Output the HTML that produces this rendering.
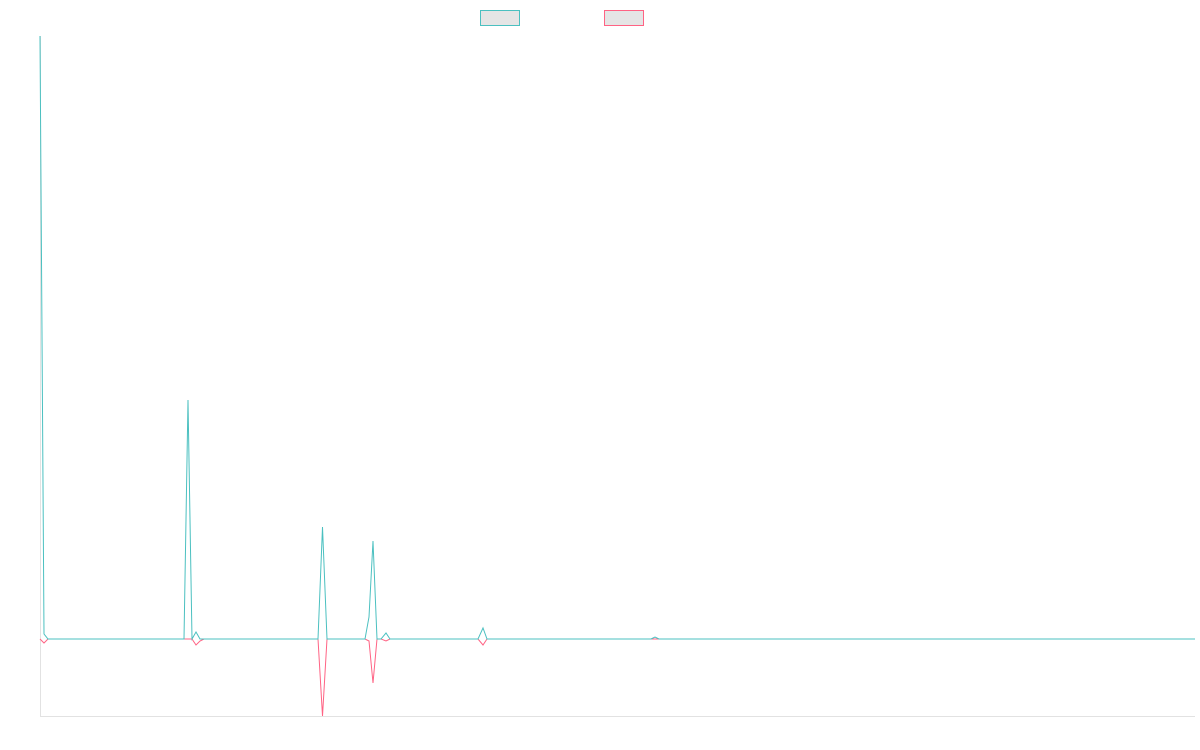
<!DOCTYPE html>
<html><head><meta charset="utf-8"><style>html,body{margin:0;padding:0;background:#fff;width:1200px;height:750px;overflow:hidden}</style></head>
<body>
<svg width="1200" height="750" xmlns="http://www.w3.org/2000/svg">
<line x1="40.5" y1="36" x2="40.5" y2="716.5" stroke="#e2e2e2" stroke-width="1"/>
<line x1="40" y1="716.5" x2="1195" y2="716.5" stroke="#e2e2e2" stroke-width="1"/>
<rect x="480.5" y="10.5" width="39" height="15" fill="#e5e5e5" stroke="#4bc0c0" stroke-width="1"/>
<rect x="604.5" y="10.5" width="39" height="15" fill="#e5e5e5" stroke="#ff6384" stroke-width="1"/>
<polyline fill="none" stroke="#ff6384" stroke-width="1" points="40,639 44,643 48,639 192,639 196,645 200,641 204,639 318,639 322.5,716 327,639 365,639 369,641 373,683 377,639 381,639 386,641 390,639 478,639 483,645 487,639 1195,639"/>
<polyline fill="none" stroke="#4bc0c0" stroke-width="1" points="40,36 44,634 48,639 184,639 188,400 192,639 196,632 200,639 318,639 322.5,527 327,639 365,639 369,617 373,541 377,639 381,639 386,633 390,639 478,639 483,628 487,639 651,639 655,637 659,639 1195,639"/>
</svg>
</body></html>
